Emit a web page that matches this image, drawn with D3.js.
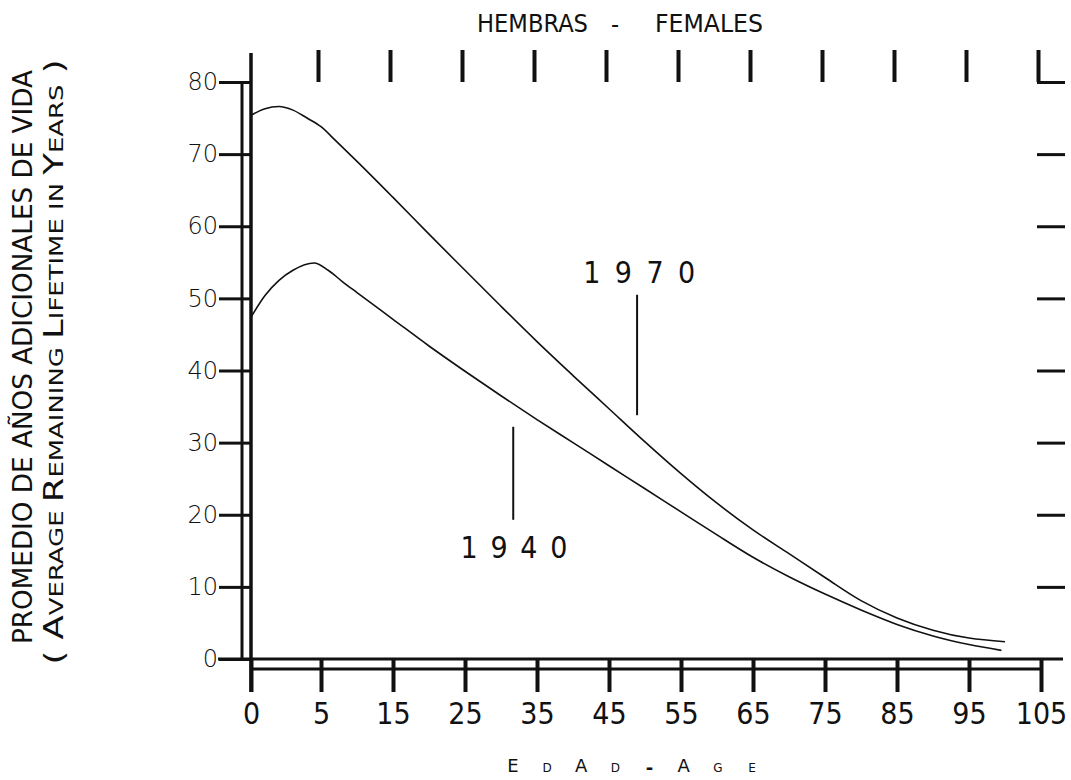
<!DOCTYPE html>
<html>
<head>
<meta charset="utf-8">
<script src="https://cdn.jsdelivr.net/npm/d3@7/dist/d3.min.js"></script>
<style>
  html, body { margin: 0; padding: 0; background: #fff; }
  svg { display: block; }
  .narrow { font-family: "Liberation Sans Narrow", "DejaVu Sans Condensed", "DejaVu Sans", sans-serif; font-stretch: condensed; }
  .dv { font-family: "DejaVu Sans", sans-serif; }
</style>
</head>
<body>
<svg id="chart" width="1071" height="780"></svg>
<script>
// ---- data ----
const xTicks = [0, 5, 15, 25, 35, 45, 55, 65, 75, 85, 95, 105];
const yTicks = [0, 10, 20, 30, 40, 50, 60, 70, 80];

const ages1970 = [0, 1, 2, 3, 4, 5, 7, 10, 15, 20, 25, 30, 35, 40, 45, 50, 55, 60, 65, 70, 75, 80, 85, 90, 95, 100];
const life1970 = [75.4, 76.3, 76.6, 76.1, 75.0, 73.8, 71.9, 69.0, 64.0, 58.9, 53.9, 48.9, 44.0, 39.3, 34.7, 30.1, 25.7, 21.6, 17.9, 14.6, 11.3, 8.1, 5.7, 4.0, 2.9, 2.4];

const ages1940 = [0, 1, 2, 3, 4.5, 6, 8, 10, 15, 20, 25, 30, 35, 40, 45, 50, 55, 60, 65, 70, 75, 80, 85, 90, 95, 99.5];
const life1940 = [47.4, 50.4, 52.5, 53.9, 54.9, 53.9, 52.3, 50.8, 47.1, 43.4, 39.9, 36.5, 33.2, 30.0, 26.8, 23.6, 20.4, 17.2, 14.1, 11.4, 9.0, 6.8, 4.8, 3.2, 2.0, 1.2];

const annotLabels = ["1970", "1940"];
const annotLabelAge = [49.2, 31.8];
const annotLabelVal = [52.1, 14.0];
const annotLineAge = [48.9, 31.7];
const annotLineTop = [50.5, 32.2];
const annotLineBottom = [33.8, 19.3];

const titleTop = ["HEMBRAS", "-", "FEMALES"];
const yTitle1 = "PROMEDIO DE AÑOS ADICIONALES DE VIDA";
const yTitle2 = [["( ", 1], ["A", 1], ["VERAGE ", 0], ["R", 1], ["EMAINING ", 0], ["L", 1], ["IFETIME IN ", 0], ["Y", 1], ["EARS", 0], [" )", 1]];
const xTitleChars = ["E", "D", "A", "D", "-", "A", "G", "E"];
const xTitleBig = [1, 0, 1, 0, 1, 1, 0, 0];

// ---- drawing ----
const svg = d3.select("#chart");
const ink = "#111";

const x = d3.scaleLinear().domain([0, 5, 105]).range([251, 321, 1041]);
const y = d3.scaleLinear().domain([0, 80]).range([659, 82]);

// left axis with labels
const gY = svg.append("g").attr("transform", `translate(${x(0)},0)`)
  .call(d3.axisLeft(y).tickValues(yTicks).tickSize(32).tickPadding(1));
gY.select(".domain").remove();
gY.selectAll("line").attr("stroke", ink).attr("stroke-width", 3);
gY.selectAll("text").attr("class", "dv").attr("font-size", 24).attr("fill", ink).attr("font-weight", 200);

// inner vertical line
svg.append("line").attr("x1", 242).attr("x2", 242).attr("y1", y(80)).attr("y2", y(0))
  .attr("stroke", ink).attr("stroke-width", 3);
// outer vertical line
svg.append("line").attr("x1", x(0)).attr("x2", x(0)).attr("y1", 53).attr("y2", 692)
  .attr("stroke", ink).attr("stroke-width", 3.5);

// bottom axis
const gX = svg.append("g").attr("transform", `translate(0,${y(0)})`)
  .call(d3.axisBottom(x).tickValues(xTicks).tickSize(33).tickPadding(11));
gX.select(".domain").remove();
gX.selectAll("line").attr("stroke", ink).attr("stroke-width", 4);
gX.selectAll("text").attr("class", "narrow").attr("font-size", 30).attr("fill", ink).attr("font-weight", 200);

// double baseline
svg.append("line").attr("x1", 218).attr("x2", 1063).attr("y1", y(0)).attr("y2", y(0))
  .attr("stroke", ink).attr("stroke-width", 3);
svg.append("line").attr("x1", x(0)).attr("x2", x(105)).attr("y1", y(0) + 10).attr("y2", y(0) + 10)
  .attr("stroke", ink).attr("stroke-width", 3);

// top ticks
const gT = svg.append("g").attr("transform", `translate(-3,${y(80)})`)
  .call(d3.axisTop(x).tickValues(xTicks.slice(1)).tickSize(32).tickFormat(""));
gT.select(".domain").remove();
gT.selectAll("line").attr("stroke", ink).attr("stroke-width", 4);

// right ticks
const gR = svg.append("g").attr("transform", `translate(${x(105) - 4},0)`)
  .call(d3.axisRight(y).tickValues(yTicks.slice(1)).tickSize(28).tickFormat(""));
gR.select(".domain").remove();
gR.selectAll("line").attr("stroke", ink).attr("stroke-width", 3);

// curves
const line = d3.line().x(d => x(d[0])).y(d => y(d[1])).curve(d3.curveMonotoneX);
svg.append("path").datum(ages1970.map((a, i) => [a, life1970[i]]))
  .attr("d", line).attr("fill", "none").attr("stroke", ink).attr("stroke-width", 1.6);
svg.append("path").datum(ages1940.map((a, i) => [a, life1940[i]]))
  .attr("d", line).attr("fill", "none").attr("stroke", ink).attr("stroke-width", 1.6);

// annotations
annotLabels.forEach((lab, i) => {
  svg.append("line")
    .attr("x1", x(annotLineAge[i])).attr("x2", x(annotLineAge[i]))
    .attr("y1", y(annotLineTop[i])).attr("y2", y(annotLineBottom[i]))
    .attr("stroke", ink).attr("stroke-width", 2);
  svg.append("text").attr("class", "narrow")
    .attr("x", x(annotLabelAge[i])).attr("y", y(annotLabelVal[i]))
    .attr("text-anchor", "middle").attr("font-size", 30).attr("fill", ink).attr("font-weight", 200)
    .attr("textLength", i === 0 ? 112 : 107).attr("lengthAdjust", "spacing")
    .text(lab);
});

// top title
svg.append("text").attr("class", "narrow").attr("x", 477).attr("y", 32)
  .attr("font-size", 25).attr("fill", ink).attr("textLength", 111).attr("lengthAdjust", "spacingAndGlyphs")
  .text(titleTop[0]);
svg.append("text").attr("class", "narrow").attr("x", 615).attr("y", 33)
  .attr("text-anchor", "middle").attr("font-size", 25).attr("fill", ink).text(titleTop[1]);
svg.append("text").attr("class", "narrow").attr("x", 655).attr("y", 32)
  .attr("font-size", 25).attr("fill", ink).attr("textLength", 108).attr("lengthAdjust", "spacingAndGlyphs")
  .text(titleTop[2]);

// y title
svg.append("text").attr("class", "dv")
  .attr("transform", "translate(32,357) rotate(-90)")
  .attr("text-anchor", "middle").attr("font-size", 26).attr("fill", ink)
  .attr("textLength", 574).attr("lengthAdjust", "spacingAndGlyphs")
  .text(yTitle1);
const t2 = svg.append("text").attr("class", "dv")
  .attr("transform", "translate(63,362) rotate(-90)")
  .attr("text-anchor", "middle").attr("fill", ink)
  .attr("textLength", 605).attr("lengthAdjust", "spacingAndGlyphs")
  .attr("xml:space", "preserve");
yTitle2.forEach(([s, big]) => {
  t2.append("tspan").attr("font-size", big ? 26 : 19).text(s);
});

// x title
const xt = d3.scalePoint().domain(d3.range(xTitleChars.length)).range([513, 752]);
xTitleChars.forEach((c, i) => {
  svg.append("text").attr("class", "dv")
    .attr("x", xt(i)).attr("y", c === "-" ? 774 : 772).attr("text-anchor", "middle")
    .attr("font-size", xTitleBig[i] ? 18 : 12).attr("font-weight", c === "-" ? "bold" : "normal")
    .attr("fill", ink).text(c);
});
</script>
</body>
</html>
